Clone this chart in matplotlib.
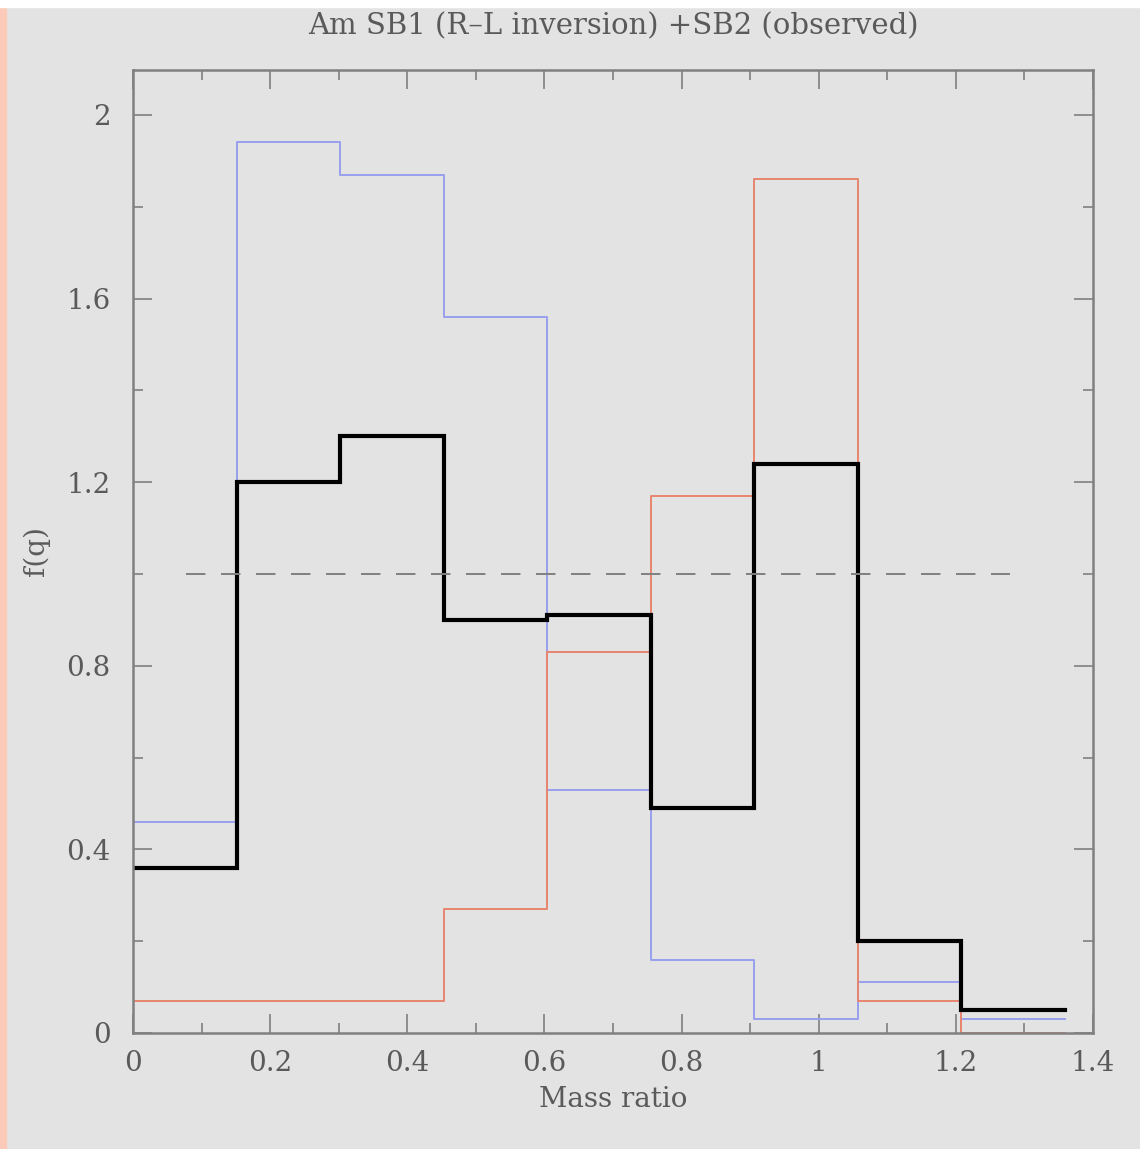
import numpy as np
import matplotlib.pyplot as plt
from matplotlib.ticker import MultipleLocator
from matplotlib.patches import Rectangle

# bin edges in mass ratio and the three distributions
edges = [0.0, 0.151, 0.302, 0.453, 0.604, 0.755, 0.906, 1.057, 1.208, 1.359]
f_total = [0.36, 1.20, 1.30, 0.90, 0.91, 0.49, 1.24, 0.20, 0.05]
f_sb1 = [0.46, 1.94, 1.87, 1.56, 0.53, 0.16, 0.03, 0.11, 0.03]
f_sb2 = [0.07, 0.07, 0.07, 0.27, 0.83, 1.17, 1.86, 0.07, 0.0]

bg = '#e3e3e3'
txt = '#5a5a5a'
axc = '#808080'

plt.rcParams['font.family'] = 'DejaVu Serif'

fig = plt.figure(figsize=(11.4, 11.49), dpi=100, facecolor=bg)
ax = fig.add_axes([0.1167, 0.1010, 0.8421, 0.8381])
ax.set_facecolor(bg)

# frame strips along the page edge
fig.patches.append(Rectangle((0, 0), 0.005, 1, transform=fig.transFigure,
                             color='#fbcab8', zorder=0))
fig.patches.append(Rectangle((0, 0.9939), 1, 0.0061, transform=fig.transFigure,
                             color='white', zorder=0))


def step(vals):
    x = np.repeat(edges, 2)[1:-1]
    y = np.repeat(vals, 2)
    return x, y


x, y = step(f_sb1)
ax.plot(x, y, color='#97a0ee', lw=1.4)
x, y = step(f_sb2)
ax.plot(x, y, color='#e8846e', lw=1.4)
x, y = step(f_total)
ax.plot(x, y, color='black', lw=3.0, solid_joinstyle='miter')

ax.plot([0.077, 1.279], [1, 1], color='#808080', lw=1.4, dashes=(10, 8))

ax.set_xlim(0, 1.4)
ax.set_ylim(0, 2.098)
ax.xaxis.set_minor_locator(MultipleLocator(0.1))
ax.yaxis.set_minor_locator(MultipleLocator(0.2))
ax.set_xticks([0, 0.2, 0.4, 0.6, 0.8, 1.0, 1.2, 1.4])
ax.set_xticklabels(['0', '0.2', '0.4', '0.6', '0.8', '1', '1.2', '1.4'])
ax.set_yticks([0, 0.4, 0.8, 1.2, 1.6, 2.0])
ax.set_yticklabels(['0', '0.4', '0.8', '1.2', '1.6', '2'])

ax.tick_params(which='both', direction='in', top=True, right=True,
               color=axc, labelcolor=txt, labelsize=20, width=1.2)
ax.tick_params(which='major', length=14)
ax.tick_params(axis='x', which='major', pad=12)
ax.tick_params(axis='y', which='major', pad=16)
ax.tick_params(which='minor', length=7)
for s in ax.spines.values():
    s.set_color(axc)
    s.set_linewidth(1.8)

ax.set_xlabel('Mass ratio', color=txt, fontsize=20, labelpad=7)
ax.set_ylabel('f(q)', color=txt, fontsize=20, labelpad=12)
ax.set_title('Am SB1 (R\u2013L inversion) +SB2 (observed)', color=txt,
             fontsize=21, pad=26)

fig.savefig('out.png', dpi=100, facecolor=bg)
